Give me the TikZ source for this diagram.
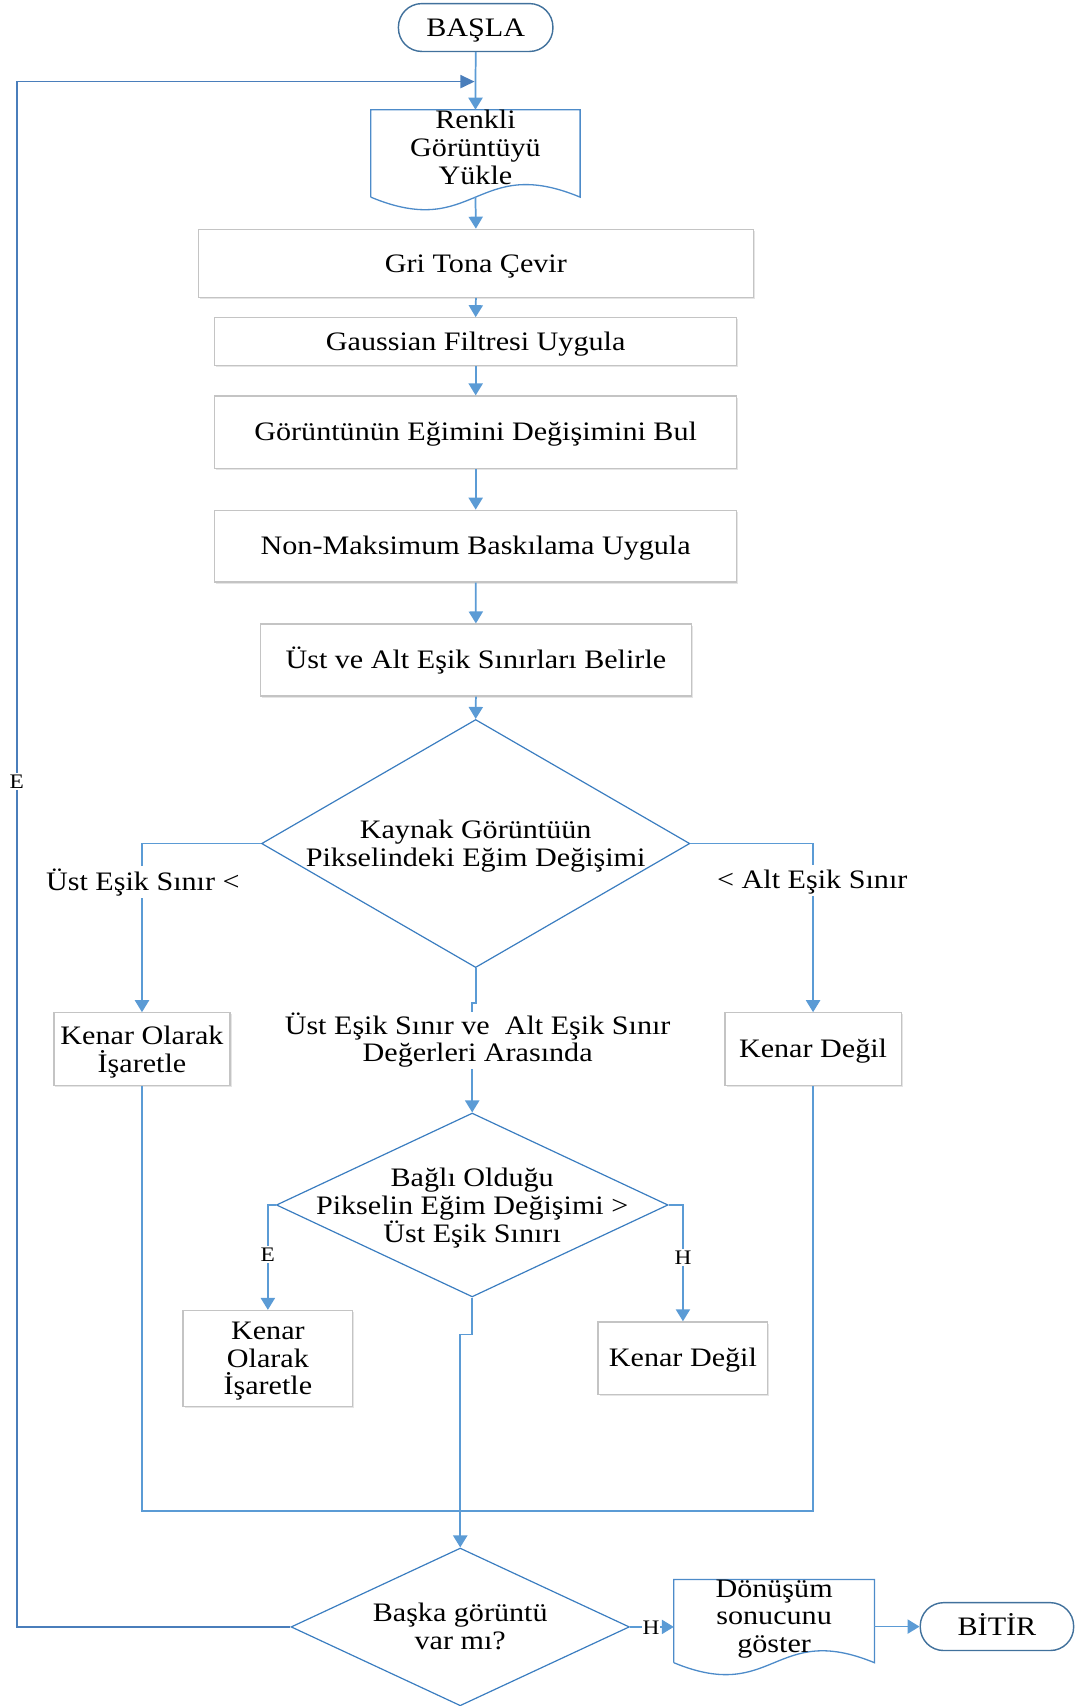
\documentclass[tikz,border=0pt]{standalone}
\usepackage{fontspec}
\setmainfont{Liberation Serif}[FakeStretch=1.13]
\usetikzlibrary{arrows.meta,shapes.geometric,shadows}

\definecolor{connblue}{HTML}{5B9BD5}
\definecolor{loopblue}{HTML}{4A7EBB}
\definecolor{termblue}{HTML}{41719C}
\definecolor{diablue}{HTML}{3A7DC0}
\definecolor{docblue}{HTML}{4D8BC9}
\definecolor{boxgray}{HTML}{C4C4C4}

% line box of the body font: full ascent and descent, so every line centres alike
\newcommand\linebox{\rule[-5.3pt]{0pt}{26.6pt}}
% one line of a stacked label, set a little lower without changing its box
\newcommand\lowline[1]{\raisebox{-2.6pt}[\height][\depth]{#1}}

\begin{document}
\begin{tikzpicture}[x=1pt,y=-1pt,
  txt/.style={font=\fontsize{24.5}{25.5}\selectfont, align=center, inner sep=0pt,
    execute at begin node=\linebox, execute at end node=\linebox},
  small/.style={font=\fontsize{19}{20}\selectfont, inner sep=1.5pt, fill=white},
  edgelbl/.style={txt, fill=white, inner sep=1pt},
  terminal/.style={draw=termblue, line width=1.3pt, rounded corners=21.5pt, fill=white, txt},
  procbox/.style={draw=boxgray, line width=1.2pt, fill=white, txt,
    drop shadow={shadow xshift=1.5pt, shadow yshift=-1.5pt, fill=black!25, opacity=0.4}},
  decision/.style={draw=diablue, line width=1.1pt, diamond, inner sep=0pt},
  docarea/.style={rectangle, inner sep=0pt},
  docline/.style={draw=docblue, line width=1.2pt},
  conn/.style={draw=connblue, line width=1.6pt, -{Triangle[width=13pt,length=11pt]}},
  connplain/.style={draw=connblue, line width=1.6pt},
  loopconn/.style={draw=loopblue, line width=1.6pt, -{Triangle[width=12pt,length=13pt]}},
]
\useasboundingbox (0,0) rectangle (992,1568);

% ---- upper chain ----
\node[terminal, minimum width=142pt, minimum height=44pt] (start) at (437.2,25.3) {BAŞLA};

\node[docarea, minimum width=192pt, minimum height=80pt] (doc1) at (437,141) {};
\draw[docline] (doc1.south west) -- (doc1.north west) -- (doc1.north east) -- (doc1.south east)
  .. controls +(-96,-40) and +(96,40) .. (doc1.south west);
\node[txt] (doc1t) at (437,138) {Renkli\\Görüntüyü\\Yükle};

\node[procbox, minimum width=510pt, minimum height=62.5pt] (gri) at (437.4,242) {Gri Tona Çevir};
\node[procbox, minimum width=480pt, minimum height=44pt] (gauss) at (437.2,314.1) {Gaussian Filtresi Uygula};
\node[procbox, minimum width=480pt, minimum height=66.6pt] (egim) at (437.2,397.3) {Görüntünün Eğimini Değişimini Bul};
\node[procbox, minimum width=480pt, minimum height=66pt] (nms) at (437.2,502) {Non-Maksimum Baskılama Uygula};
\node[procbox, minimum width=396pt, minimum height=66pt] (esik) at (437.4,606.6) {Üst ve Alt Eşik Sınırları Belirle};

% ---- first decision ----
\node[decision, minimum width=393.6pt, minimum height=228pt] (d1) at (437.2,775.3) {};
\node[txt] (d1t) at (437.2,777.8) {Kaynak Görüntüün\\Pikselindeki Eğim Değişimi};

\node[procbox, minimum width=162pt, minimum height=67pt] (kol1) at (130.5,964.4) {\lowline{Kenar Olarak}\\\lowline{İşaretle}};
\node[procbox, minimum width=162pt, minimum height=67pt] (kd1) at (747.3,964.4) {Kenar Değil};

% ---- second decision ----
\node[decision, minimum width=360pt, minimum height=169pt] (d2) at (434,1107.5) {};
\node[txt] (d2t) at (434,1110.5) {Bağlı Olduğu\\Pikselin Eğim Değişimi >\\Üst Eşik Sınırı};

\node[procbox, minimum width=156pt, minimum height=88pt] (kol2) at (246.2,1248.5) {\lowline{Kenar}\\\lowline{Olarak}\\\lowline{İşaretle}};
\node[procbox, minimum width=156pt, minimum height=66.6pt] (kd2) at (627.7,1248.3) {Kenar Değil};

% ---- final decision and end ----
\node[decision, minimum width=311pt, minimum height=145pt] (d3) at (423,1495.3) {};
\node[txt] (d3t) at (423,1497) {Başka görüntü\\var mı?};

\node[docarea, minimum width=184pt, minimum height=76pt] (doc2) at (711.5,1490) {};
\draw[docline] (doc2.south west) -- (doc2.north west) -- (doc2.north east) -- (doc2.south east)
  .. controls +(-92,-38) and +(92,38) .. (doc2.south west);
\node[txt] (doc2t) at (711.5,1488) {Dönüşüm\\sonucunu\\göster};

\node[terminal, minimum width=141pt, minimum height=44pt] (bitir) at (916.3,1495) {BİTİR};

% ---- connectors ----
\draw[conn] (start.south) -- (doc1.north);
\draw[conn] (doc1.south) -- (gri.north);
\draw[conn] (gri.south) -- (gauss.north);
\draw[conn] (gauss.south) -- (egim.north);
\draw[conn] (egim.south) -- (nms.north);
\draw[conn] (nms.south) -- (esik.north);
\draw[conn] (esik.south) -- (d1.north);

\draw[conn] (d1.west) -| (kol1.north);
\draw[conn] (d1.east) -| (kd1.north);
\draw[conn] (d1.south) -- ++(0,32) -| (d2.north);

\draw[conn] (d2.west) -| (kol2.north);
\draw[conn] (d2.east) -| (kd2.north);
\draw[conn] (d2.south) -- ++(0,34) -| (d3.north);

\coordinate (mergeR) at (747.3,1389);
\draw[connplain] (kol1.south) |- (mergeR) -- (kd1.south);

\coordinate (loopleft) at (15.3,1495.3);
\coordinate (loopin) at (436.2,75);
\draw[loopconn] (d3.west) -- (loopleft) |- (loopin);

\draw[conn] (d3.east) -- (d3.east -| doc2.west);
\draw[conn] (bitir.west -| doc2.east) -- (bitir.west);

% ---- connector labels ----
\node[edgelbl] (lblhigh) at (131.3,810.6) {Üst Eşik Sınır <};
\node[edgelbl] (lbllow) at (746.6,809) {< Alt Eşik Sınır};
\node[edgelbl] (lblmid) at (439,956) {Üst Eşik Sınır ve\ \ Alt Eşik Sınır\\Değerleri Arasında};
\node[small] (lble2) at (246.2,1153) {E};
\node[small] (lblh2) at (627.7,1156) {H};
\node[small] (lblloop) at (15.3,718.6) {E};
\node[small, inner sep=0.5pt] (lblh3) at (598.5,1496) {H};

\end{tikzpicture}
\end{document}
